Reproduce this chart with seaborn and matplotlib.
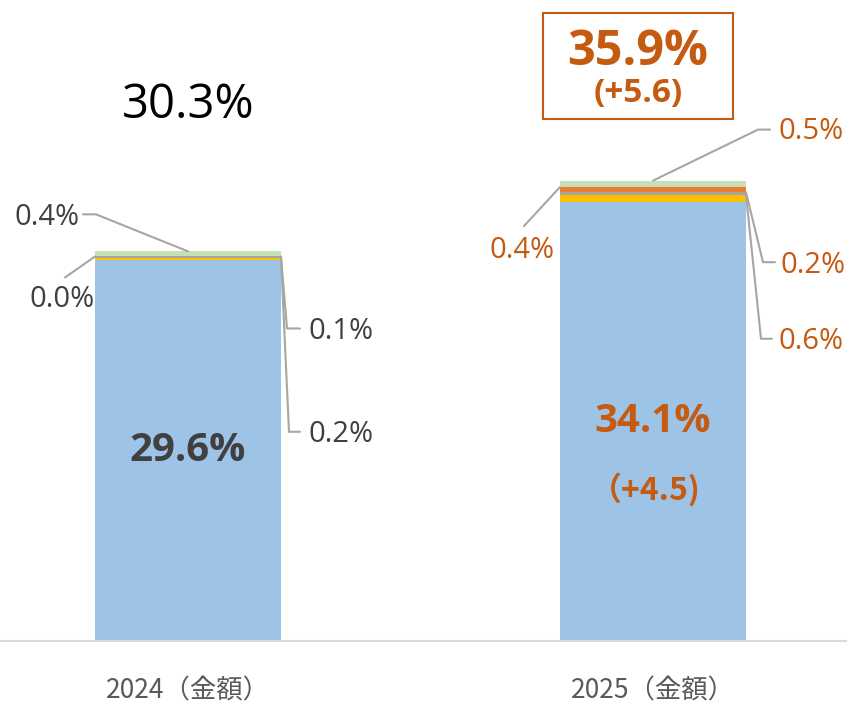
import matplotlib
matplotlib.use("Agg")
import matplotlib.pyplot as plt
from matplotlib.patches import Rectangle
import seaborn as sns
import pandas as pd
import numpy as np

# data (stack order from bottom to top)
years = ["2024（金額）", "2025（金額）"]
segments = ["main", "yellow", "gray", "orange", "green"]
main_vals = [29.6, 34.1]
yellow_vals = [0.2, 0.6]
gray_vals = [0.1, 0.2]
orange_vals = [0.0, 0.4]
green_vals = [0.4, 0.5]
totals = ["30.3%", "35.9%"]
total_change = "(+5.6)"
main_change = "（+4.5)"

seg_colors = ["#9DC3E6", "#FFC000", "#A5A5A5", "#ED7D31", "#C5E0B4"]
accent = "#C55A11"
dark = "#404040"
line_c = "#A6A6A6"

sns.set_style("white")
plt.rcParams["font.family"] = ["Open Sans", "Noto Sans CJK JP", "DejaVu Sans"]

vals = np.array([main_vals, yellow_vals, gray_vals, orange_vals, green_vals])
cum = vals.cumsum(axis=0)

W, H = 847, 705
fig = plt.figure(figsize=(W / 100, H / 100), dpi=100)
base_px = 641
ax = fig.add_axes([0, (H - base_px) / H, 1, base_px / H])

bw = 0.4
# draw cumulative bars from the top layer down so each layer shows
for i in range(len(segments) - 1, -1, -1):
    df = pd.DataFrame({"year": years, "v": cum[i]})
    sns.barplot(data=df, x="year", y="v", color=seg_colors[i], width=bw,
                saturation=1, ax=ax, linewidth=0)

px_per_unit = 465
ax.set_xlim(-188 / px_per_unit, 1 + (W - 653) / px_per_unit)
ax.set_ylim(0, base_px / 12.86)
for s in ["top", "right", "left"]:
    ax.spines[s].set_visible(False)
ax.spines["bottom"].set_color("#D9D9D9")
ax.spines["bottom"].set_linewidth(1.5)
ax.set_yticks([])
ax.set_xlabel("")
ax.set_ylabel("")
ax.tick_params(axis="x", length=0, pad=26)
for t in ax.get_xticklabels():
    t.set_fontsize(19)
    t.set_color("#595959")
    t.set_family(["Noto Sans CJK JP", "DejaVu Sans"])

fig.canvas.draw()


def leader(anchor, pts, text, tpos, ha, color):
    # pts / tpos are pixel offsets from the anchor (x right, y down)
    ax_, ay_ = ax.transData.transform(anchor)
    xs = [ax_] + [ax_ + p[0] for p in pts]
    ys = [ay_] + [ay_ - p[1] for p in pts]
    fig.add_artist(plt.Line2D(xs, ys, transform=None, color=line_c, lw=1.5))
    ax.annotate(text, xy=anchor, xytext=(tpos[0], -tpos[1]), textcoords="offset pixels",
                ha=ha, va="center", fontsize=21, color=color)


def pct(v):
    return f"{v:.1f}%"

L0, R0 = -bw / 2, bw / 2
L1, R1 = 1 - bw / 2, 1 + bw / 2

# 2024 small labels
leader((0, cum[4][0]), [(-92, -37), (-105, -37)], pct(green_vals[0]), (-108, -34), "right", dark)
leader((L0, cum[3][0]), [(-30, 21)], pct(orange_vals[0]), (0, 43), "right", dark)
leader((R0, cum[2][0]), [(6, 72), (19, 72)], pct(gray_vals[0]), (27, 75), "left", dark)
leader((R0, cum[1][0]), [(8, 174), (19, 174)], pct(yellow_vals[0]), (27, 177), "left", dark)

# 2025 small labels
leader((1, cum[4][1]), [(105, -51), (117, -51)], pct(green_vals[1]), (125, -49), "left", accent)
leader((L1, cum[3][1]), [(-36, 39)], pct(orange_vals[1]), (-5, 63), "right", accent)
leader((R1, cum[2][1]), [(17, 70), (29, 70)], pct(gray_vals[1]), (35, 73), "left", accent)
leader((R1, cum[1][1]), [(15, 144), (26, 144)], pct(yellow_vals[1]), (32, 147), "left", accent)

# totals
ax.annotate(totals[0], xy=(0, cum[4][0]), xytext=(0, 146), textcoords="offset pixels",
            ha="center", va="center", fontsize=34, color="black")
ax.text(0, main_vals[0] / 2, pct(main_vals[0]), ha="center", va="center",
        fontsize=29, fontweight="bold", color=dark)
ax.text(1, main_vals[1] / 2, pct(main_vals[1]), ha="center", va="center",
        fontsize=29, fontweight="bold", color=accent)
ax.annotate(main_change, xy=(1, main_vals[1] / 2), xytext=(-8, -68), textcoords="offset pixels",
            ha="center", va="center", fontsize=23, fontweight="bold", color=accent,
            family=["Noto Sans CJK JP", "DejaVu Sans"])

# boxed total for 2025
ax.annotate(totals[1], xy=(1, cum[4][1]), xytext=(-15, 128), textcoords="offset pixels",
            ha="center", va="center", fontsize=35, fontweight="bold", color=accent)
ax.annotate(total_change, xy=(1, cum[4][1]), xytext=(-15, 87), textcoords="offset pixels",
            ha="center", va="center", fontsize=24, fontweight="bold", color=accent)
bx, by = ax.transData.transform((1, cum[4][1]))
fig.add_artist(Rectangle((bx - 110, by + 62), 190, 106, transform=None,
                         fill=False, edgecolor=accent, lw=1.5))

fig.savefig("out.png", dpi=100)
